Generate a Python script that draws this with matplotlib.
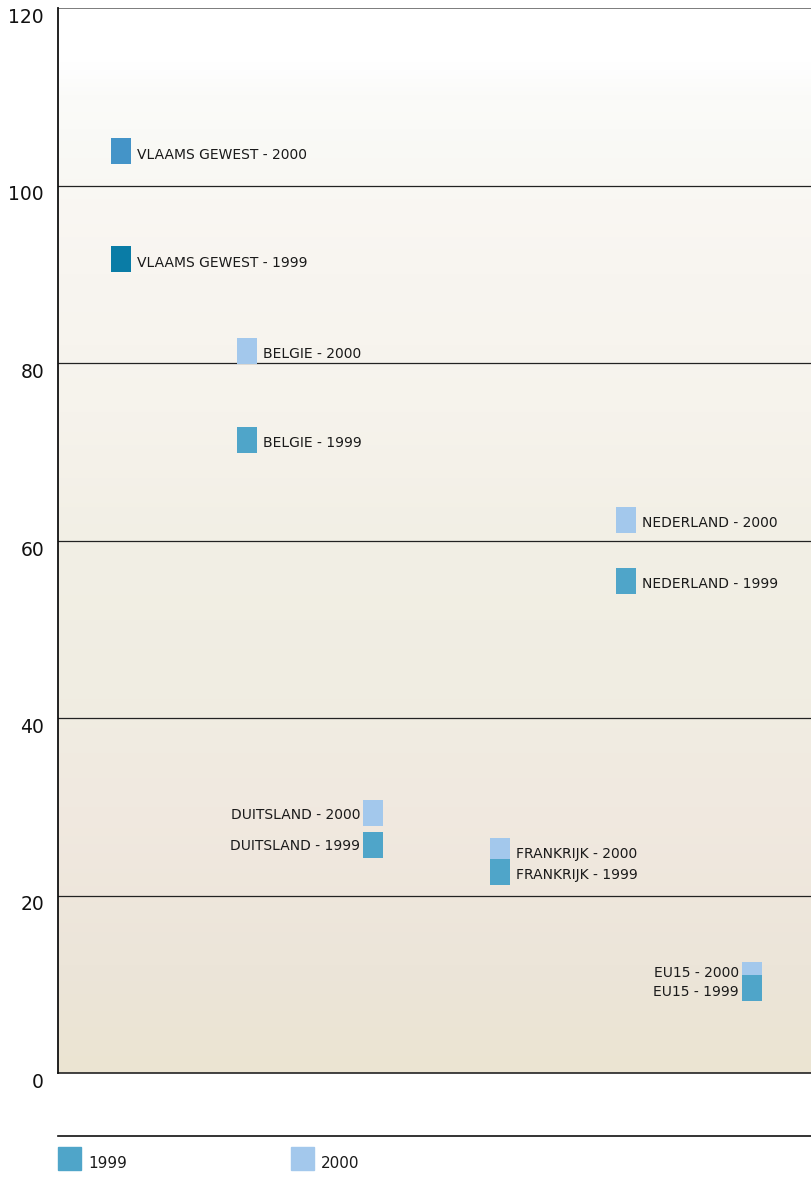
import numpy as np
import matplotlib
matplotlib.use("Agg")
import matplotlib.pyplot as plt
from matplotlib.colors import LinearSegmentedColormap
from matplotlib.patches import Rectangle
from matplotlib.lines import Line2D

plt.rcParams['font.family'] = ['DejaVu Sans']

# ---- data ----
regions = ["VLAAMS GEWEST", "BELGIE", "DUITSLAND", "FRANKRIJK", "NEDERLAND", "EU15"]
values_1999 = [91.7, 71.3, 25.7, 22.6, 55.4, 9.6]
values_2000 = [103.9, 81.4, 29.3, 25.0, 62.3, 11.0]
yticks = [0, 20, 40, 60, 80, 100, 120]
series_labels = ["1999", "2000"]

# ---- styles ----
c1999 = "#4fa5c9"
c2000 = "#a3c8ec"
c_vl1999 = "#0a7ca6"
c_vl2000 = "#4494c8"
label_side = ["right", "right", "left", "right", "right", "left"]
off_2000 = [-4, -3, -2, -3, -3, 2]
off_1999 = [-4, -3, -1, -3, -3, -4]

W, H = 812, 1177
AX_W = 757
fig = plt.figure(figsize=(W / 100, H / 100), dpi=100)
ax = fig.add_axes([58 / W, 1 - 1073 / H, AX_W / W, (1073 - 8) / H])

ax.set_xlim(0, 6)
ax.set_ylim(0, 120)

# background gradient
stops = [(0.0, "#ebe4d2"), (0.10, "#ece5d9"), (0.25, "#f1e9e0"), (0.35, "#f0ede2"),
         (0.50, "#f2efe5"), (0.62, "#f6f3ec"), (0.75, "#f8f5f0"), (0.82, "#faf7f3"),
         (0.86, "#f9f9f5"), (0.92, "#fbfbf9"), (0.95, "#ffffff"), (1.0, "#ffffff")]
cmap = LinearSegmentedColormap.from_list("bg", stops)
grad = np.linspace(0, 1, 256).reshape(-1, 1)
ax.imshow(grad, extent=[0, 6, 0, 120], origin="lower", aspect="auto", cmap=cmap, zorder=0)

# gridlines
for t in yticks[1:-1]:
    ax.axhline(t, color="#222222", lw=0.9, zorder=1)
ax.axhline(120, color="#666666", lw=1.2, zorder=1)

for s in ["right", "bottom", "top"]:
    ax.spines[s].set_visible(False)
ax.axhline(0, color="#222222", lw=1.2, zorder=1, clip_on=False)
ax.spines["left"].set_color("#111111")
ax.spines["left"].set_linewidth(1.3)

x = np.arange(len(regions)) + 0.5
bw = 20 / (AX_W / 6)
bh = 26 / (1065 / 120)

cols2000 = [c_vl2000] + [c2000] * (len(regions) - 1)
cols1999 = [c_vl1999] + [c1999] * (len(regions) - 1)
v2000 = np.array(values_2000)
v1999 = np.array(values_1999)
ax.bar(x, bh, width=bw, bottom=v2000 - bh / 2, color=cols2000, zorder=3)
ax.bar(x, bh, width=bw, bottom=v1999 - bh / 2, color=cols1999, zorder=4)

px = 0.72  # points per pixel
for i, r in enumerate(regions):
    for val, yr, off in ((values_2000[i], "2000", off_2000[i]), (values_1999[i], "1999", off_1999[i])):
        if label_side[i] == "right":
            ax.annotate(f"{r} - {yr}", (x[i], val), xytext=(16 * px, off * px),
                        textcoords="offset points", ha="left", va="center",
                        fontsize=10, color="#1a1a1a", zorder=5)
        else:
            ax.annotate(f"{r} - {yr}", (x[i], val), xytext=(-13 * px, off * px),
                        textcoords="offset points", ha="right", va="center",
                        fontsize=10, color="#1a1a1a", zorder=5)

ax.set_xticks([])
ax.set_yticks(yticks)
ax.set_yticklabels([str(t) for t in yticks], fontsize=13.5, color="#111111")
ax.tick_params(axis="y", length=0, pad=10)
for lab in ax.get_yticklabels():
    lab.set_verticalalignment("top")

# legend
fig.add_artist(Line2D([58 / W, 1], [1 - 1136 / H, 1 - 1136 / H], color="#111111", lw=1.2,
                      transform=fig.transFigure))
for xs, col, lab in ((58, c1999, series_labels[0]), (291, c2000, series_labels[1])):
    fig.add_artist(Rectangle((xs / W, 1 - 1170 / H), 23 / W, 23 / H, color=col,
                             transform=fig.transFigure))
    fig.text((xs + 30) / W, 1 - 1163 / H, lab, fontsize=11, va="center", ha="left", color="#1a1a1a")

fig.savefig("out.png", dpi=100)
